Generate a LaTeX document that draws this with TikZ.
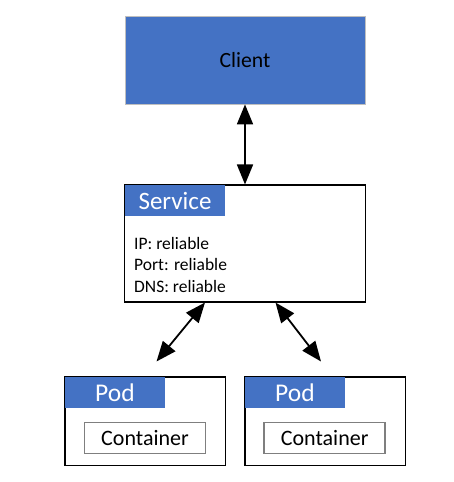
\documentclass[tikz,border=0pt]{standalone}
\usepackage{fontspec}
\setmainfont{Carlito}
\usetikzlibrary{arrows.meta}
\definecolor{wordblue}{HTML}{4472C4}
\definecolor{cgray}{HTML}{7F7F7F}
\begin{document}
\begin{tikzpicture}[x=1pt,y=-1pt,
  box/.style={draw=black,line width=1.1pt,fill=white,minimum width=#1,inner sep=0pt},
  tag/.style={fill=wordblue,text=white,inner sep=0pt,minimum width=100pt,minimum height=31pt},
  cbox/.style={draw=cgray,line width=1.5pt,fill=white,inner sep=0pt,minimum width=121pt,minimum height=31pt,font=\fontsize{22}{26}\selectfont},
  link/.style={line width=1.8pt,{Triangle[length=20pt,width=16pt]}-{Triangle[length=20pt,width=16pt]}}]
\useasboundingbox (0,0) rectangle (453,482);
% client
\node[fill=wordblue,draw=black!25,line width=0.8pt,minimum width=240pt,minimum height=88pt,inner sep=0pt,font=\fontsize{21.7}{26}\selectfont] (client) at (245,60) {Client};
% service
\node[box=241pt,minimum height=117pt] (service) at (245.3,243.5) {};
\node[tag,font=\fontsize{25}{30}\selectfont] (svctag) at (175,200.5) {Service};
\node[anchor=base west,align=left,inner sep=0pt,font=\fontsize{17.5}{21.5}\selectfont] (svctext) at (134,292) {IP: reliable\\Port: reliable\\DNS: reliable};
% pods
\node[box=160.7pt,minimum height=88.7pt] (pod1) at (145.3,421.3) {};
\node[tag,font=\fontsize{25.5}{30}\selectfont] (pod1tag) at (115,392.3) {Pod};
\node[cbox] (cont1) at (145,438) {Container};
\node[box=160.7pt,minimum height=88.7pt] (pod2) at (325.3,421.3) {};
\node[tag,font=\fontsize{25.5}{30}\selectfont] (pod2tag) at (295,392.3) {Pod};
\node[cbox] (cont2) at (324.7,438) {Container};
% connectors
\coordinate (s1) at (205,302.5);
\coordinate (p1) at (156.5,361.5);
\coordinate (s2) at (275.5,302.5);
\coordinate (p2) at (321,361.5);
\draw[link] (client.south) -- (client.south |- service.north);
\draw[link] (s1) -- (p1);
\draw[link] (s2) -- (p2);
\end{tikzpicture}
\end{document}
